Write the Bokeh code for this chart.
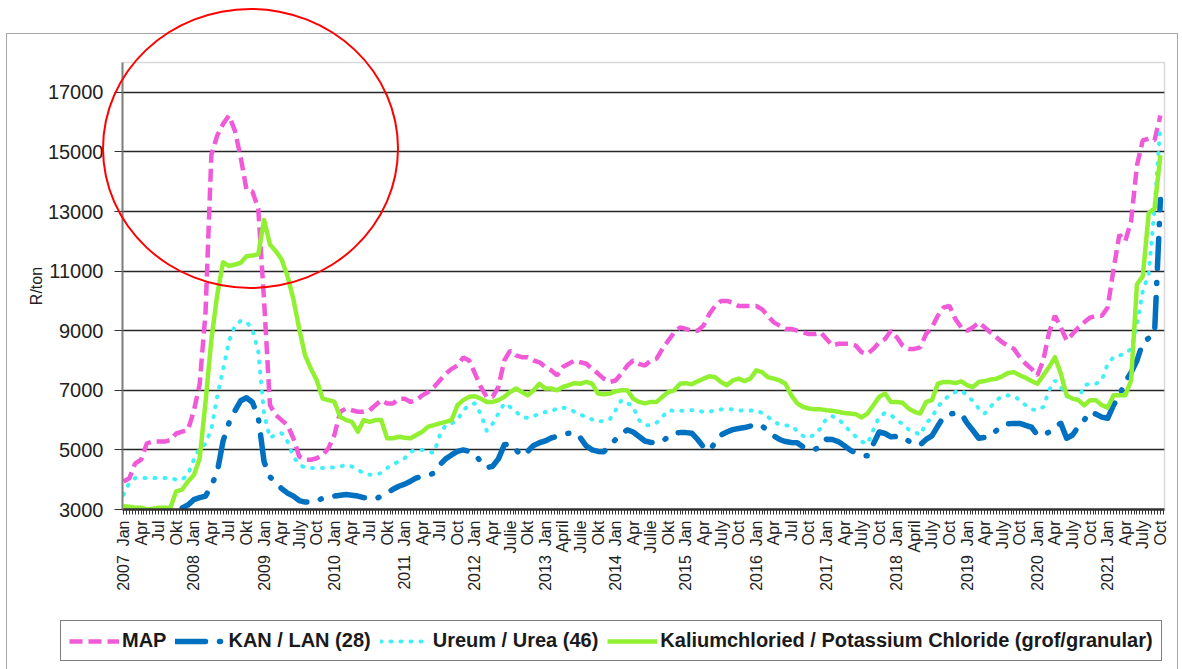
import math
from bokeh.plotting import figure
from bokeh.layouts import column
from bokeh.models import (Range1d, FixedTicker, Legend, LegendItem,
                          InlineStyleSheet)
from bokeh.embed import file_html
from bokeh.resources import INLINE

# ---------------- data (monthly, Jan 2007 .. Oct 2021) ----------------
years = list(range(2007, 2022))
quarter_labels = [
    ["Jan", "Apr", "Jul", "Okt"],      # 2007
    ["Jan", "Apr", "Jul", "Okt"],      # 2008
    ["Jan", "Apr", "July", "Oct"],     # 2009
    ["Jan", "Apr", "Jul", "Okt"],      # 2010
    ["Jan", "Apr", "Jul", "Oct"],      # 2011
    ["Jan", "Apr", "Julie", "Okt"],    # 2012
    ["Jan", "April", "Julie", "Okt"],  # 2013
    ["Jan", "Apr", "Julie", "Okt"],    # 2014
    ["Jan", "Apr", "July", "Oct"],     # 2015
    ["Jan", "Apr", "Jul", "Oct"],      # 2016
    ["Jan", "Apr", "July", "Oct"],     # 2017
    ["Jan", "April", "July", "Oct"],   # 2018
    ["Jan", "Apr", "July", "Oct"],     # 2019
    ["Jan", "Apr", "July", "Oct"],     # 2020
    ["Jan", "Apr", "July", "Oct"],     # 2021
]

map_price = [
    3940, 4050, 4550, 4670, 5220, 5280, 5280, 5280, 5330, 5550, 5610, 5670,
    6300, 7200, 9600, 14900, 15550, 15940, 16220, 15720, 14830, 13720, 13670, 13100,
    10000, 6500, 6170, 6000, 5830, 5390, 4780, 4670, 4670, 4720, 4830, 5060,
    5500, 6280, 6390, 6330, 6280, 6280, 6330, 6500, 6670, 6560, 6560, 6720,
    6720, 6610, 6670, 6830, 6940, 7110, 7330, 7550, 7720, 7830, 8100, 8000,
    7560, 7110, 6780, 6780, 7110, 8000, 8330, 8170, 8110, 8110, 8000, 7940,
    7780, 7670, 7500, 7780, 7890, 8000, 7940, 7890, 7720, 7560, 7390, 7280,
    7330, 7560, 7830, 8000, 7890, 7830, 8000, 8060, 8390, 8670, 8940, 9110,
    9060, 9000, 9000, 9170, 9560, 9830, 10000, 10000, 9940, 9830, 9830, 9830,
    9830, 9720, 9500, 9280, 9170, 9060, 9060, 9000, 8940, 8890, 8890, 8940,
    8720, 8500, 8560, 8560, 8560, 8500, 8280, 8220, 8390, 8610, 8720, 9000,
    8780, 8500, 8390, 8390, 8440, 8890, 9110, 9500, 9780, 9830, 9390, 9110,
    9000, 9110, 9280, 9110, 8940, 8780, 8610, 8500, 8390, 8110, 7890, 7720,
    7500, 8000, 8940, 9500, 9110, 8670, 8890, 9110, 9280, 9440, 9500, 9500,
    9780, 11060, 12220, 12000, 12670, 14550, 15390, 15440, 15390, 16220,
]

kan_price = [
    2900, 2900, 2900, 2900, 2900, 2920, 2950, 2980, 3000, 3020, 3050, 3150,
    3330, 3400, 3450, 3800, 4250, 5300, 5900, 6300, 6650, 6750, 6600, 6100,
    4600, 4100, 3890, 3700, 3550, 3450, 3300, 3250, 3250, 3280, 3380, 3420,
    3450, 3480, 3500, 3480, 3450, 3400, 3380, 3350, 3450, 3550, 3680, 3780,
    3850, 3950, 4060, 4100, 4150, 4220, 4500, 4700, 4830, 4950, 5000, 4950,
    4850, 4600, 4400, 4450, 4700, 5170, 5200, 5000, 4800, 4950, 5150, 5240,
    5300, 5400, 5450, 5520, 5560, 5580, 5400, 5130, 5000, 4950, 4940, 5150,
    5350, 5550, 5670, 5600, 5450, 5300, 5250, 5250, 5280, 5450, 5560, 5580,
    5580, 5560, 5350, 5100, 4980, 5250, 5500, 5600, 5680, 5720, 5750, 5800,
    5870, 5800, 5650, 5470, 5350, 5280, 5250, 5240, 5100, 5000, 5020, 5100,
    5360, 5350, 5280, 5150, 5000, 4900, 4830, 4800, 5200, 5600, 5550, 5440,
    5450, 5440, 5300, 5200, 5170, 5350, 5470, 5800, 6110, 6200, 6230, 6220,
    5900, 5650, 5390, 5420, 5470, 5650, 5800, 5880, 5890, 5890, 5820, 5760,
    5500, 5500, 5600, 5800, 5890, 5390, 5500, 5780, 6000, 6280, 6200, 6100,
    6060, 6500, 6830, 7280, 7600, 8000, 8600, 8750, 8900, 13400,
]

urea_price = [
    3500, 3890, 4060, 4060, 4060, 4060, 4060, 4060, 4060, 4000, 4000, 4170,
    4670, 5060, 5200, 5700, 6800, 7700, 8650, 9150, 9330, 9300, 9050, 8300,
    6200, 5400, 5520, 5560, 5280, 4780, 4500, 4410, 4390, 4390, 4390, 4390,
    4420, 4440, 4500, 4440, 4330, 4220, 4170, 4170, 4220, 4390, 4520, 4610,
    4720, 4940, 5000, 5000, 4940, 4900, 5500, 5830, 5890, 6000, 6330, 6500,
    6560, 6200, 5640, 5870, 6220, 6560, 6440, 6280, 6110, 6070, 6130, 6220,
    6270, 6280, 6400, 6420, 6380, 6280, 6190, 6090, 6020, 5940, 5980, 6020,
    6330, 6670, 6580, 6440, 6000, 5830, 5830, 5910, 6110, 6330, 6310, 6310,
    6310, 6330, 6330, 6270, 6280, 6330, 6360, 6360, 6360, 6330, 6310, 6320,
    6330, 6240, 6110, 5960, 5840, 5820, 5810, 5640, 5470, 5400, 5530, 5720,
    6060, 6130, 6060, 5830, 5640, 5440, 5280, 5200, 5670, 6110, 6240, 6170,
    6000, 5870, 5690, 5610, 5500, 5890, 6090, 6440, 6670, 6830, 6940, 7000,
    6830, 6640, 6390, 6220, 6440, 6670, 6800, 6830, 6800, 6670, 6500, 6360,
    6330, 6440, 7000, 7330, 7110, 6800, 6720, 6690, 7170, 7220, 7220, 7330,
    7890, 8110, 8170, 8220, 8390, 9220, 10330, 10890, 13110, 15890,
]

kcl_price = [
    3110, 3090, 3060, 3060, 3000, 3030, 3060, 3060, 3060, 3610, 3670, 3940,
    4150, 4700, 6600, 8700, 10200, 11300, 11170, 11220, 11280, 11500, 11520, 11560,
    12720, 11890, 11670, 11390, 10830, 10060, 9060, 8170, 7720, 7330, 6720, 6670,
    6610, 6110, 6000, 5940, 5610, 6000, 5940, 6000, 6000, 5390, 5390, 5440,
    5410, 5390, 5500, 5610, 5780, 5830, 5890, 5940, 6000, 6500, 6670, 6780,
    6800, 6720, 6610, 6610, 6670, 6780, 6940, 7060, 6940, 6830, 7000, 7220,
    7060, 7060, 7000, 7110, 7170, 7240, 7220, 7280, 7220, 6890, 6870, 6890,
    6970, 7000, 7000, 6720, 6610, 6560, 6610, 6610, 6780, 6940, 7000, 7220,
    7240, 7200, 7300, 7390, 7470, 7440, 7280, 7170, 7330, 7390, 7310, 7390,
    7670, 7610, 7440, 7390, 7330, 7220, 6830, 6560, 6440, 6390, 6360, 6360,
    6330, 6310, 6280, 6240, 6220, 6200, 6090, 6220, 6500, 6780, 6890, 6610,
    6610, 6580, 6390, 6280, 6220, 6610, 6670, 7220, 7280, 7280, 7240, 7300,
    7170, 7110, 7280, 7310, 7360, 7390, 7470, 7580, 7610, 7500, 7420, 7310,
    7220, 7500, 7780, 8110, 7560, 6830, 6720, 6670, 6500, 6670, 6670, 6500,
    6420, 6830, 6830, 6830, 7330, 10560, 10830, 12940, 13110, 14890,
]

series_names = ["MAP", "KAN / LAN (28)", "Ureum / Urea (46)",
                "Kaliumchloried / Potassium Chloride (grof/granular)"]
y_ticks = [3000, 5000, 7000, 9000, 11000, 13000, 15000, 17000]

# ---------------- layout ----------------
W, H1, H2 = 1180, 612, 55
FL, FR, FT, FB = 122, 1164, 62, 509          # frame edges in canvas px
X0, X1 = -0.17, 177.7
Y0, Y1 = 3000, 18000
FONT = "Liberation Sans"

months = list(range(len(map_price)))
all_series = [map_price, kan_price, urea_price, kcl_price]

p = figure(width=W, height=H1, output_backend="svg", toolbar_location=None,
           x_range=Range1d(X0, X1), y_range=Range1d(Y0, Y1),
           min_border_left=FL, min_border_right=W - FR,
           min_border_top=FT, min_border_bottom=H1 - FB)
p.background_fill_color = "white"
p.border_fill_color = "white"
p.outline_line_color = "#d9d9d9"
p.outline_line_width = 1.5

# x axis
labels = {}
for m in months:
    y_i, mo = divmod(m, 12)
    if mo % 3 == 0:
        name = quarter_labels[y_i][mo // 3]
        labels[m] = f"{years[y_i]}\u00a0\u00a0{name}" if mo == 0 else name
    else:
        labels[m] = ""
p.xaxis.ticker = FixedTicker(ticks=months,
                             minor_ticks=[m + 0.5 for m in months])
p.xaxis.major_label_overrides = labels
p.xaxis.major_label_orientation = math.pi / 2
p.xaxis.major_label_text_font = FONT
p.xaxis.major_label_text_font_size = "16px"
p.xaxis.major_label_text_color = "#222222"
p.xaxis.major_label_standoff = 6
p.xaxis.major_tick_out = 5
p.xaxis.major_tick_in = 0
p.xaxis.minor_tick_out = 5
p.xaxis.minor_tick_in = 0
p.xaxis.major_tick_line_color = "#333333"
p.xaxis.minor_tick_line_color = "#333333"
p.xaxis.axis_line_color = "#333333"
p.xaxis.axis_line_width = 2.5

# y axis
p.yaxis.ticker = FixedTicker(ticks=y_ticks)
p.yaxis.major_label_text_font = FONT
p.yaxis.major_label_text_font_size = "20px"
p.yaxis.major_label_text_color = "#222222"
p.yaxis.major_tick_out = 8
p.yaxis.major_tick_in = 0
p.yaxis.minor_tick_line_color = None
p.yaxis.major_tick_line_color = "#333333"
p.yaxis.major_label_standoff = 11
p.yaxis.axis_line_color = "#7f7f7f"
p.yaxis.axis_line_width = 2
p.yaxis.axis_label = "R/ton"
p.yaxis.axis_label_text_font = FONT
p.yaxis.axis_label_text_font_size = "16px"
p.yaxis.axis_label_text_font_style = "normal"
p.yaxis.axis_label_text_color = "#222222"
p.yaxis.axis_label_standoff = 0

p.xgrid.grid_line_color = None
p.ygrid.ticker = FixedTicker(ticks=y_ticks)
p.ygrid.grid_line_color = "#262626"
p.ygrid.grid_line_width = 1.4

styles = [
    dict(line_color="#F05AD8", line_width=4.5, line_dash="13 6"),
    dict(line_color="#0070C0", line_width=5.5, line_dash="30 14 1 14",
         line_cap="round", line_join="round"),
    dict(line_color="#40F0F8", line_width=4, line_dash="1 9", line_cap="round"),
    dict(line_color="#92F032", line_width=4.5, line_join="round"),
]
for vals, st in zip(all_series, styles):
    p.line(months, vals, **st)

# outer chart border and red highlight circle (page decorations)
p.stylesheets = [InlineStyleSheet(css="""
:host::before { content: ""; position: absolute; left: 6px; top: 33px;
  width: 1172px; height: 660px; box-sizing: border-box;
  border: 1.5px solid #a6a6a6; pointer-events: none; z-index: 5; }
:host::after { content: ""; position: absolute; left: 102px; top: 8px;
  width: 297px; height: 281px; box-sizing: border-box;
  border: 2px solid #ff0000; border-radius: 50%; pointer-events: none;
  z-index: 6; }
""")]

# legend strip underneath; its key lines reuse the series (outside its range)
lg = figure(width=W, height=H2, output_backend="svg", toolbar_location=None,
            x_range=Range1d(0, 1), y_range=Range1d(0, 1),
            x_axis_location=None, y_axis_location=None, min_border=0)
lg.grid.visible = False
lg.outline_line_color = None
lg.background_fill_color = "white"
lg.border_fill_color = "white"
keys = [lg.line(months, vals, **st) for vals, st in zip(all_series, styles)]

can_unalign = "frame_align" in lg.properties()
if can_unalign:
    lg.frame_align = False
    p.frame_align = False
    leg_loc, leg_font = (60, 6), "20px"
else:
    leg_loc, leg_font = (0, 6), "18px"

legend = Legend(items=[LegendItem(label=n, renderers=[r])
                       for n, r in zip(series_names, keys)],
                orientation="horizontal", location=leg_loc,
                glyph_width=50, glyph_height=20, label_standoff=3,
                spacing=9, padding=8, margin=0,
                border_line_color="black", border_line_width=1.5,
                background_fill_color="white", background_fill_alpha=1,
                label_text_font=FONT, label_text_font_size=leg_font,
                label_text_font_style="bold", label_text_color="#1a1a1a",
                label_height=22)
lg.add_layout(legend)

layout = column(p, lg, spacing=0)
open("out.html", "w").write(file_html(layout, INLINE))
